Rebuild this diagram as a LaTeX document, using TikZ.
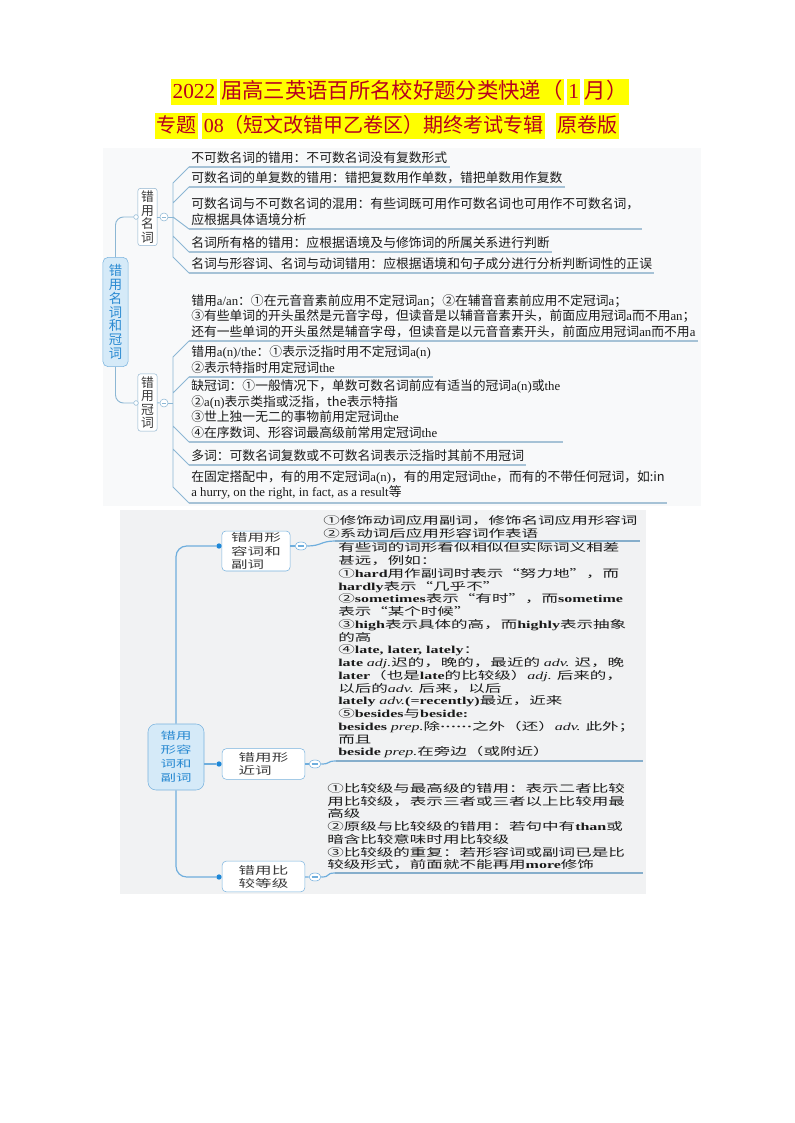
\documentclass[tikz,border=0pt]{standalone}
\usepackage{fontspec}
\setmainfont{Noto Sans CJK SC}
\newfontfamily\lat{Liberation Serif}
\newfontfamily\wide[FakeStretch=1.55]{Noto Sans CJK SC}
\newfontfamily\latwide[FakeStretch=1.5]{Liberation Serif}
\newcommand\en[1]{{\lat #1}}
\newcommand\eb[1]{{\latwide\bfseries #1}}
\newcommand\ei[1]{{\latwide\itshape #1}}
\usetikzlibrary{positioning,calc,shapes.geometric}
\definecolor{titlered}{HTML}{B8001F}
\definecolor{hlyellow}{HTML}{FFFF00}
\definecolor{rootfill}{HTML}{D5EAF8}
\definecolor{rootline}{HTML}{79B3DE}
\definecolor{rootink}{HTML}{2A8AD2}
\definecolor{subline}{HTML}{8FB3CE}
\definecolor{subink}{HTML}{3A3A3A}
\definecolor{linkone}{HTML}{8CB7D4}
\definecolor{ulone}{HTML}{A6C2D6}
\definecolor{linktwo}{HTML}{6FAEDD}
\definecolor{ultwo}{HTML}{86AECB}
\definecolor{dotblue}{HTML}{1E88D8}
\definecolor{leafink}{HTML}{1A1A1A}
\definecolor{panelone}{HTML}{F8F9FA}
\definecolor{paneltwo}{HTML}{F1F2F3}

\begin{document}
\begin{tikzpicture}[x=.75pt,y=-.75pt,
 hl/.style={fill=hlyellow,text=titlered,inner xsep=1pt,inner ysep=1.5pt,text height=13pt,text depth=3.5pt,font=\fontsize{#1}{#1}\selectfont},
 topic/.style={draw=rootline,fill=rootfill,rounded corners=4pt,text=rootink,align=center,inner sep=1pt,minimum width=19pt,minimum height=82pt,font=\fontsize{10}{10.4}\selectfont},
 sub/.style={draw=subline,fill=white,rounded corners=2pt,text=subink,align=center,inner sep=1pt,minimum width=14.5pt,minimum height=43pt,font=\fontsize{9.6}{10.1}\selectfont},
 leaf/.style={anchor=south west,align=left,inner xsep=1.5pt,inner ysep=2.5pt,text=leafink,font=\fontsize{9.6}{11.6}\selectfont},
 odot/.style={circle,draw=linkone,fill=white,inner sep=0pt,minimum size=3.5pt},
 minus/.style={circle,draw=linkone,fill=white,inner sep=0pt,minimum size=6pt,
  path picture={\draw[linkone] ([xshift=1.3pt]path picture bounding box.west) -- ([xshift=-1.3pt]path picture bounding box.east);}},
 topicw/.style={draw=rootline,fill=rootfill,rounded corners=6pt,text=rootink,align=center,inner sep=1pt,minimum width=42pt,minimum height=49.5pt,font=\wide\fontsize{7.5}{10.5}\selectfont},
 subw/.style={draw=rootline,fill=white,rounded corners=3pt,text=subink,align=left,inner xsep=7pt,inner ysep=1.5pt,font=\wide\fontsize{8}{9.8}\selectfont},
 leafw/.style={anchor=south west,align=left,inner xsep=1.5pt,inner ysep=2pt,text=leafink,font=\wide\fontsize{8}{9.56}\selectfont},
 bdot/.style={circle,fill=dotblue,inner sep=0pt,minimum size=4pt},
 minusw/.style={ellipse,draw=linktwo,fill=white,inner sep=0pt,minimum width=9pt,minimum height=6pt,
  path picture={\draw[linktwo] ([xshift=2pt]path picture bounding box.west) -- ([xshift=-2pt]path picture bounding box.east);}},
 linkone/.style={draw=linkone,line width=.7pt},
 ulone/.style={draw=ulone,line width=.8pt},
 linktwo/.style={draw=linktwo,line width=.9pt},
 ultwo/.style={draw=ultwo,line width=.9pt}]
\useasboundingbox (0,0) rectangle (794,1123);
\fill[panelone] (103,148) rectangle (701,506);
\fill[paneltwo] (120,510) rectangle (646,894);

\node[hl=16,anchor=west] (ya) at (171,92) {\en{2022}};
\node[hl=16,right=2pt of ya] (yb) {届高三英语百所名校好题分类快递（};
\node[hl=16,right=2pt of yb] (yc) {\en{1}};
\node[hl=16,right=2pt of yc] (yd) {月）};
\node[hl=15,anchor=west] (za) at (155,126) {专题};
\node[hl=15,right=3pt of za] (zb) {\en{08}（短文改错甲乙卷区）期终考试专辑};
\node[hl=15,right=8pt of zb] (zc) {原卷版};

\node[topic] (nountopic) at (115.5,312) {错\\用\\名\\词\\和\\冠\\词};
\node[sub] (nouns) at (147.5,217) {错\\用\\名\\词};
\node[sub] (arts) at (147.5,402.5) {错\\用\\冠\\词};
\node[odot] (nounsin) at (136,217) {};
\node[odot] (artsin) at (136,403) {};
\node[minus] (nounsout) at (164,217) {};
\node[minus] (artsout) at (164,403) {};
\coordinate (ns) at (173,217);
\coordinate (as) at (173,403);
\node[leaf] (n1) at (189,167) {不可数名词的错用：不可数名词没有复数形式};
\node[leaf] (n2) at (189,187) {可数名词的单复数的错用：错把复数用作单数，错把单数用作复数};
\node[leaf] (n3) at (189,229) {可数名词与不可数名词的混用：有些词既可用作可数名词也可用作不可数名词，\\应根据具体语境分析};
\node[leaf] (n4) at (189,252) {名词所有格的错用：应根据语境及与修饰词的所属关系进行判断};
\node[leaf] (n5) at (189,273) {名词与形容词、名词与动词错用：应根据语境和句子成分进行分析判断词性的正误};
\node[leaf] (a1) at (189,341) {错用\en{a/an}：①在元音音素前应用不定冠词\en{an}；②在辅音音素前应用不定冠词\en{a}；\\③有些单词的开头虽然是元音字母，但读音是以辅音音素开头，前面应用冠词\en{a}而不用\en{an}；\\还有一些单词的开头虽然是辅音字母，但读音是以元音音素开头，前面应用冠词\en{an}而不用\en{a}};
\node[leaf] (a2) at (189,377) {错用\en{a(n)/the}：①表示泛指时用不定冠词\en{a(n)}\\②表示特指时用定冠词\en{the}};
\node[leaf] (a3) at (189,442) {缺冠词：①一般情况下，单数可数名词前应有适当的冠词\en{a(n)}或\en{the}\\②\en{a(n)}表示类指或泛指，the表示特指\\③世上独一无二的事物前用定冠词\en{the}\\④在序数词、形容词最高级前常用定冠词\en{the}};
\node[leaf] (a4) at (189,465) {多词：可数名词复数或不可数名词表示泛指时其前不用冠词};
\node[leaf] (a5) at (189,503) {在固定搭配中，有的用不定冠词\en{a(n)}，有的用定冠词\en{the}，而有的不带任何冠词，如:in\\\en{a hurry, on the right, in fact, as a result}等};
\draw[linkone,rounded corners=6pt] (nountopic.north) |- (nounsin);
\draw[linkone,rounded corners=6pt] (nountopic.south) |- (artsin);
\draw[linkone] (nouns) -- (nounsout);
\draw[linkone] (arts) -- (artsout);
\draw[linkone] (nounsout) -- (ns);
\draw[linkone] (artsout) -- (as);
\draw[linkone] (ns) -- ($(ns|-n1.south west)+(0,16)$) -- (n1.south west)
 (ns) -- ($(ns|-n2.south west)+(0,16)$) -- (n2.south west)
 (ns) -- (n3.south west)
 (ns) -- ($(ns|-n4.south west)+(0,-16)$) -- (n4.south west)
 (ns) -- ($(ns|-n5.south west)+(0,-16)$) -- (n5.south west);
\draw[linkone] (as) -- ($(as|-a1.south west)+(0,16)$) -- (a1.south west)
 (as) -- ($(as|-a2.south west)+(0,16)$) -- (a2.south west)
 (as) -- ($(as|-a3.south west)+(0,-16)$) -- (a3.south west)
 (as) -- ($(as|-a4.south west)+(0,-16)$) -- (a4.south west)
 (as) -- ($(as|-a5.south west)+(0,-16)$) -- (a5.south west);
\foreach \l in {n1,n2,n3,n4,n5,a1,a2,a3,a4,a5}
 \draw[ulone] (\l.south west) -- (\l.south east);

\node[topicw] (adjtopic) at (176,757) {错用\\形容\\词和\\副词};
\node[subw] (forms) at (256,551) {错用形\\容词和\\副词};
\node[subw,minimum width=62pt,minimum height=23pt] (looks) at (263.5,764) {错用形\\近词};
\node[subw,minimum width=62pt,minimum height=23pt] (degree) at (263.5,876.5) {错用比\\较等级};
\node[bdot] (formsin) at (219,546) {};
\node[bdot] (looksin) at (219,764) {};
\node[bdot] (degreein) at (219,877) {};
\node[minusw] (formsout) at (301,546) {};
\node[minusw] (looksout) at (315,764) {};
\node[minusw] (degreeout) at (315,877) {};
\coordinate (rimtwo) at (643,0);
\node[leafw] (f1) at (321,541) {①修饰动词应用副词，修饰名词应用形容词\\②系动词后应用形容词作表语};
\node[leafw] (k1) at (336,761) {有些词的词形看似相似但实际词义相差\\甚远，例如：\\①\eb{hard}用作副词时表示“努力地”，而\\\eb{hardly}表示“几乎不”\\②\eb{sometimes}表示“有时”，而\eb{sometime}\\表示“某个时候”\\③\eb{high}表示具体的高，而\eb{highly}表示抽象\\的高\\④\eb{late, later, lately}：\\\eb{late} \ei{adj.}迟的，晚的，最近的 \ei{adv.} 迟，晚\\\eb{later}（也是\eb{late}的比较级）\ei{adj.} 后来的，\\以后的\ei{adv.} 后来，以后\\\eb{lately} \ei{adv.}\eb{(=recently)}最近，近来\\⑤\eb{besides}与\eb{beside:}\\\eb{besides} \ei{prep.}除{\latwide\bfseries ······}之外（还）\ei{adv.} 此外；\\而且\\\eb{beside} \ei{prep.}在旁边（或附近）};
\node[leafw] (d1) at (325,873) {①比较级与最高级的错用：表示二者比较\\用比较级，表示三者或三者以上比较用最\\高级\\②原级与比较级的错用：若句中有\eb{than}或\\暗含比较意味时用比较级\\③比较级的重复：若形容词或副词已是比\\较级形式，前面就不能再用\eb{more}修饰};
\coordinate (f1u) at ($(f1.south west)+(14,0)$);
\coordinate (d1u) at ($(d1.south west)+(10,0)$);
\draw[linktwo,rounded corners=8pt] (adjtopic.north) |- (formsin);
\draw[linktwo,rounded corners=8pt] (adjtopic.south) |- (degreein);
\draw[linktwo] (adjtopic.east |- looksin) -- (looksin);
\draw[linktwo] (forms.east |- formsout) -- (formsout);
\draw[linktwo] (looks) -- (looksout);
\draw[linktwo] (degree) -- (degreeout);
\draw[linktwo] (formsout.east) .. controls +(14,0) and +(-14,0) .. (f1u);
\draw[linktwo] (looksout.east) .. controls +(10,0) and +(-10,0) .. (k1.south west);
\draw[linktwo] (degreeout.east) .. controls +(10,0) and +(-10,0) .. (d1u);
\draw[ultwo] (f1u) -- (f1.south east);
\draw[ultwo] (k1.south west) -- (k1.south west -| rimtwo);
\draw[ultwo] (d1u) -- (d1.south west -| rimtwo);
\end{tikzpicture}
\end{document}
